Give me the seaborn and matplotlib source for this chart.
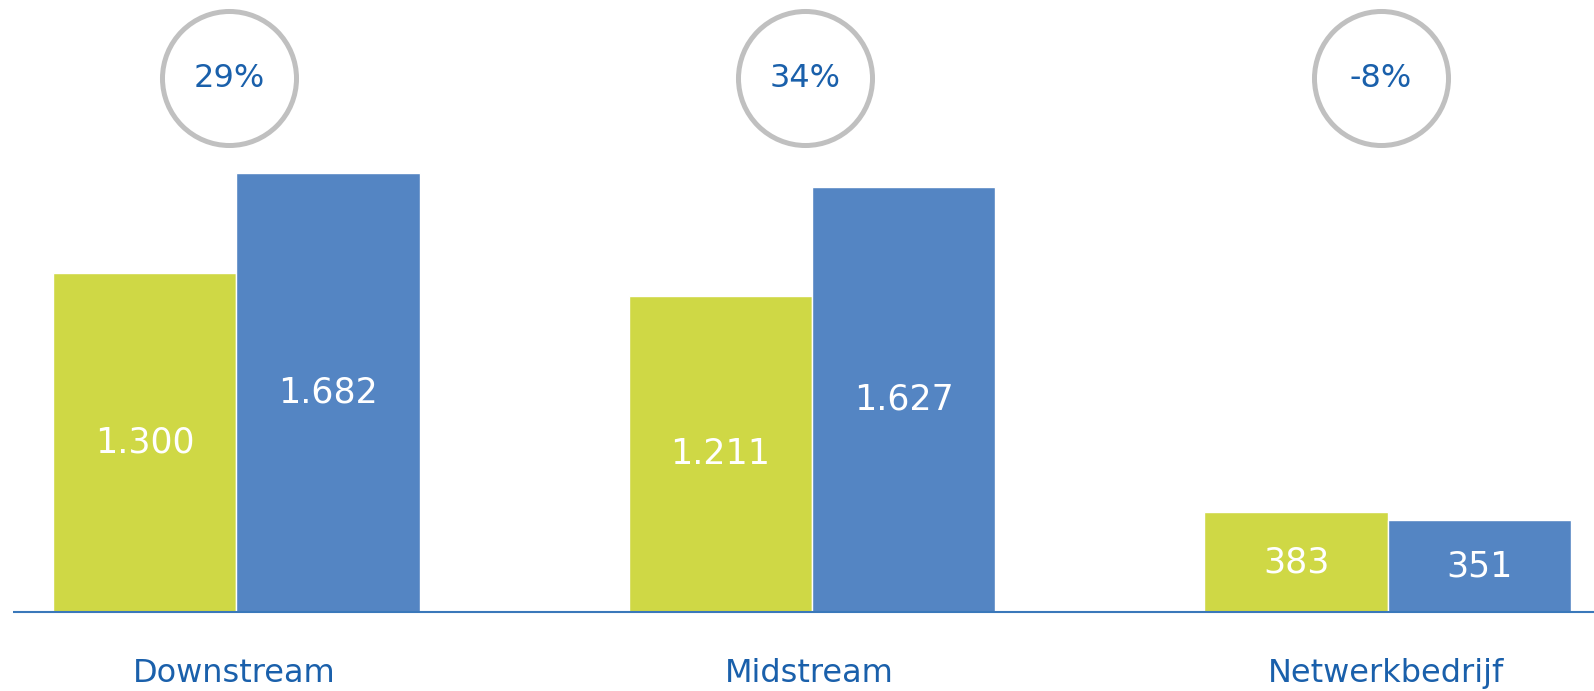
import numpy as np
import pandas as pd
import matplotlib
matplotlib.use('Agg')
import matplotlib.pyplot as plt
import seaborn as sns

categories = ["Downstream", "Midstream", "Netwerkbedrijf"]
series = ["periode 1", "periode 2"]
values_1 = [1300, 1211, 383]
values_2 = [1682, 1627, 351]
change_labels = ["29%", "34%", "-8%"]

green = "#CFD845"
blue = "#5485C3"
text_blue = "#1A60AB"
ring_grey = "#C0C0C0"

df = pd.DataFrame({
    "categorie": categories * 2,
    "serie": [series[0]] * 3 + [series[1]] * 3,
    "waarde": values_1 + values_2,
})

sns.set_theme(style="white")
plt.rcParams['font.family'] = ['DejaVu Sans']

fig = plt.figure(figsize=(15.94, 6.91), dpi=100)
ax = fig.add_axes([0, 79 / 691, 1, 612 / 691])

sns.barplot(data=df, x="categorie", y="waarde", hue="serie", palette=[green, blue],
            width=0.637, edgecolor="white", linewidth=1, saturation=1, ax=ax, legend=False)

ax.set_xlim(-0.41, 2.358)
ax.set_ylim(0, 2344)
ax.axis("off")

# baseline
ax.hlines(0, -0.387, 2.36, color="#3A78BA", linewidth=1.5, clip_on=False, zorder=5)

# value labels in the middle of each bar
for cont in ax.containers:
    for rect in cont:
        h = rect.get_height()
        lbl = f"{int(h):,}".replace(",", ".")
        ax.text(rect.get_x() + rect.get_width() / 2, h / 2, lbl, ha="center", va="center",
                color="white", fontsize=25)

# category names under the axis
for i, cat in enumerate(categories):
    ax.text(i - 0.004, -237, cat, ha="center", va="center", color=text_blue, fontsize=23,
            clip_on=False)

# change rings on top
xs = np.arange(len(categories)) - 0.012
ax.scatter(xs, [2045] * 3, s=9312, facecolor="white", edgecolor=ring_grey, linewidth=3.6,
           clip_on=False, zorder=6)
for x, lbl in zip(xs, change_labels):
    ax.text(x, 2045, lbl, ha="center", va="center", color=text_blue, fontsize=23, zorder=7)

plt.savefig("out.png", dpi=100)
plt.close()
